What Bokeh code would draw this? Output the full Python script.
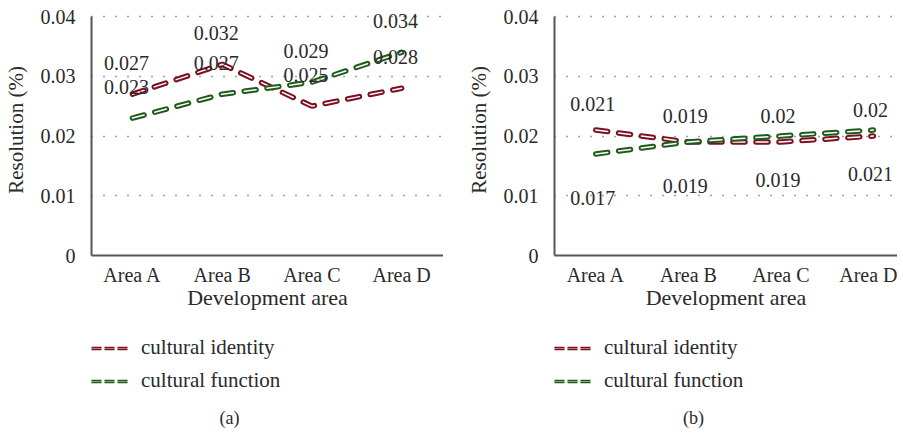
from bokeh.plotting import figure
from bokeh.layouts import row, column
from bokeh.models import ColumnDataSource, FixedTicker, Legend, LegendItem, Label, Range1d
from bokeh.core.properties import value
from bokeh.embed import file_html
from bokeh.resources import INLINE

areas = ["Area A", "Area B", "Area C", "Area D"]
series_names = ["cultural identity", "cultural function"]

a_identity = [0.027, 0.032, 0.025, 0.028]
a_function = [0.023, 0.027, 0.029, 0.034]
a_identity_labels = ["0.027", "0.032", "0.025", "0.028"]
a_function_labels = ["0.023", "0.027", "0.029", "0.034"]

b_identity = [0.021, 0.019, 0.019, 0.020]
b_function = [0.017, 0.019, 0.020, 0.021]
b_identity_labels = ["0.021", "0.019", "0.02", "0.02"]
b_function_labels = ["0.017", "0.019", "0.019", "0.021"]

y_ticks = [0, 0.01, 0.02, 0.03, 0.04]
y_tick_labels = ["0", "0.01", "0.02", "0.03", "0.04"]
captions = ["(a)", "(b)"]

RED = "#7a1020"
GREEN = "#1f5a1c"
FONT = "Liberation Serif"
TXT = "#2a2a2a"
FS = "20px"
MAIN_H = 325
LEG_H = 108
FRAME_H = 251
Y_MAX = 0.04
Y_END = Y_MAX * FRAME_H / 239.0


def make_panel(width, border_left, x_start, x_end, ident, func, ident_labels, func_labels,
               ident_off, func_off, x_off):
    p = figure(width=width, height=MAIN_H, output_backend="svg", toolbar_location=None,
               min_border_left=border_left, min_border_right=0, min_border_top=4,
               min_border_bottom=MAIN_H - 4 - FRAME_H,
               x_range=Range1d(x_start, x_end), y_range=Range1d(0, Y_END))
    p.outline_line_color = None
    xs = list(range(len(areas)))

    for vals, col in ((ident, RED), (func, GREEN)):
        src = ColumnDataSource(dict(x=xs, y=vals))
        p.line("x", "y", source=src, line_color=col, line_width=5.5, line_dash="12 11",
               line_cap="round")
        p.line("x", "y", source=src, line_color="white", line_width=1.5, line_dash="12 11",
               line_cap="round")

    for vals, labs, off in ((ident, ident_labels, ident_off), (func, func_labels, func_off)):
        src = ColumnDataSource(dict(x=xs, y=vals, t=labs))
        p.text("x", "y", text="t", source=src, text_font=value(FONT), text_font_size=FS,
               text_color=TXT, text_align="center", text_baseline="middle",
               x_offset=x_off, y_offset=off)

    p.xaxis.ticker = FixedTicker(ticks=xs)
    p.xaxis.major_label_overrides = {i: a for i, a in enumerate(areas)}
    p.yaxis.ticker = FixedTicker(ticks=y_ticks)
    p.yaxis.major_label_overrides = {t: l for t, l in zip(y_ticks, y_tick_labels)}
    p.yaxis.bounds = (0, Y_MAX)
    for ax in (p.xaxis, p.yaxis):
        ax.major_tick_line_color = None
        ax.minor_tick_line_color = None
        ax.axis_line_color = "#555555"
        ax.axis_line_width = 2
        ax.major_label_text_font = FONT
        ax.major_label_text_font_size = FS
        ax.major_label_text_color = TXT
        ax.axis_label_text_font = FONT
        ax.axis_label_text_font_style = "normal"
        ax.axis_label_text_color = TXT
    p.xaxis.axis_label_text_font_size = "22px"
    p.yaxis.axis_label_text_font_size = "21px"
    p.xaxis.major_label_standoff = 2
    p.yaxis.major_label_standoff = 10
    p.xaxis.axis_label = "Development area"
    p.xaxis.axis_label_standoff = -4
    p.yaxis.axis_label = "Resolution (%)"
    p.yaxis.axis_label_standoff = 10
    p.xgrid.grid_line_color = None
    p.ygrid.ticker = FixedTicker(ticks=y_ticks)
    p.ygrid.grid_line_color = "#444444"
    p.ygrid.grid_line_width = 1.5
    p.ygrid.grid_line_dash = "1 11"
    return p


def make_legend(width, cap_x, caption):
    q = figure(width=width, height=LEG_H, output_backend="svg", toolbar_location=None,
               min_border=0, x_range=Range1d(0, 1), y_range=Range1d(0, 1),
               x_axis_location=None, y_axis_location=None)
    q.outline_line_color = None
    q.xgrid.grid_line_color = None
    q.ygrid.grid_line_color = None
    items = []
    for name, col in zip(series_names, (RED, GREEN)):
        # keyed renderers drawn outside the visible range: only the legend shows them
        e = ColumnDataSource(dict(x=[-10, -9], y=[-10, -10]))
        r1 = q.line("x", "y", source=e, line_color=col, line_width=3.5, line_dash="10 3")
        r2 = q.line("x", "y", source=e, line_color="white", line_alpha=0.45, line_width=1,
                    line_dash="10 3")
        items.append(LegendItem(label=name, renderers=[r1, r2]))
    leg = Legend(items=items, location=(0, 40), orientation="vertical",
                 glyph_width=37, glyph_height=22, label_height=22, label_standoff=13,
                 spacing=8, padding=0, margin=0, border_line_color=None,
                 background_fill_alpha=0, label_text_font=FONT,
                 label_text_font_size="21px", label_text_color=TXT)
    q.add_layout(leg, "center")
    q.add_layout(Label(x=cap_x, y=16, x_units="screen", y_units="screen", text=caption,
                       text_font=FONT, text_font_size="18px", text_color=TXT,
                       text_align="center", text_baseline="middle"))
    return q


pa = make_panel(443, 82, -0.457, 3.467, a_identity, a_function,
                a_identity_labels, a_function_labels, -31, -31, -6)
pb = make_panel(454, 111, -0.446, 3.26, b_identity, b_function,
                b_identity_labels, b_function_labels, -26, 44, -3)
la = make_legend(443, 138, captions[0])
lb = make_legend(454, 139, captions[1])

layout = row(column(pa, la), column(pb, lb))
open("out.html", "w").write(file_html(layout, INLINE))
